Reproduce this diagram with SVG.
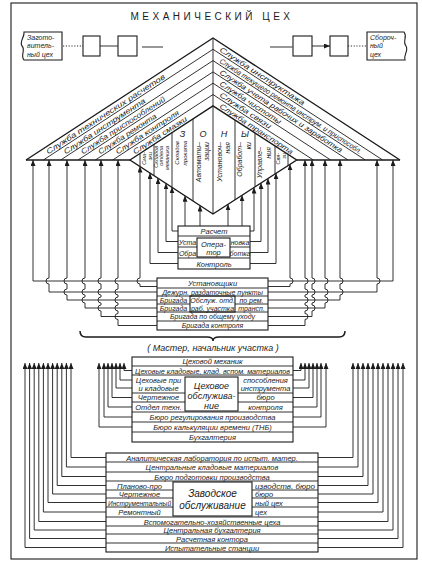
<svg xmlns="http://www.w3.org/2000/svg" width="422" height="573" viewBox="0 0 422 573">
<style>
.ln{fill:none;stroke:#1b1b1b;stroke-width:0.9}
.bx{fill:none;stroke:#1b1b1b;stroke-width:1.1}
.ol{fill:none;stroke:#1b1b1b;stroke-width:1.4}
.t{font-family:"Liberation Sans",Arial,sans-serif;font-style:italic;font-size:7.5px;fill:#1b1b1b}
.c{text-anchor:middle}
.e{text-anchor:end}
.s6{font-size:6px}
.s55{font-size:5.5px}
.s7{font-size:7px}
.s9{font-size:9px}
.s10{font-size:10px}
.ar{marker-start:url(#ah)}
</style>
<defs>
<marker id="ah" markerUnits="userSpaceOnUse" markerWidth="6" markerHeight="5" viewBox="0 0 6 5" refX="6" refY="2.5" orient="auto-start-reverse"><path d="M0,0 L6,2.5 L0,5 z" fill="#1b1b1b"/></marker>
</defs>
<rect width="422" height="573" fill="#ffffff"/>
<g id="frame"><rect x="11" y="3" width="406" height="556" class="bx"/></g>
<g id="title"><text x="212" y="20" text-anchor="middle" style="font-family:'Liberation Sans',Arial,sans-serif;font-size:10px;letter-spacing:3.5px;fill:#1b1b1b">МЕХАНИЧЕСКИЙ ЦЕХ</text></g>

<g id="flow">
<g id="zagot"><path d="M24,32 H62 V60 H24 C20,55 26,50 22,46 C19,41 25,37 24,32 Z" class="bx"/>
<text class="t s7" x="27" y="40">Загото-</text><text class="t s7" x="27" y="48">витель-</text><text class="t s7" x="27" y="57">ный цех</text></g>
<rect id="sq1" x="83" y="36" width="17" height="20" class="bx"/>
<rect id="sq2" x="118" y="36" width="19" height="20" class="bx"/>
<rect id="sq3" x="293" y="36" width="19" height="20" class="bx"/>
<rect id="sq4" x="330" y="36" width="18" height="20" class="bx"/>
<g id="sborka"><path d="M367,32 H404 C408,37 402,41 406,46 C409,51 403,55 405,60 H367 Z" class="bx"/>
<text class="t s7" x="370" y="40">Сбороч-</text><text class="t s7" x="370" y="48">ный</text><text class="t s7" x="370" y="57">цех</text></g>
</g>

<g id="roof">
<path d="M26,160 L213,38 L400,160" class="ol"/>
<path d="M26,160 H130 M296.67,160 H400" class="ol"/>
<path d="M43.33,160 L213,49.31 M60.67,160 L213,60.62 M78,160 L213,71.92 M95.33,160 L213,83.23 M112.67,160 L213,94.54" class="ln"/>
<path d="M213,49.31 L382.67,160 M213,60.62 L365.33,160 M213,71.92 L348,160 M213,83.23 L330.67,160 M213,94.54 L313.33,160" class="ln"/>
<path d="M213,38 V105.85" class="ln"/>
<text class="t" transform="translate(48.3,154.6) rotate(-33.12)" textLength="140" lengthAdjust="spacingAndGlyphs">Служба технических расчетов</text>
<text class="t" transform="translate(65.7,154.6) rotate(-33.12)" textLength="96" lengthAdjust="spacingAndGlyphs">Служба инструмента</text>
<text class="t" transform="translate(83,154.6) rotate(-33.12)" textLength="99" lengthAdjust="spacingAndGlyphs">Служба приспособлений</text>
<text class="t" transform="translate(100.3,154.6) rotate(-33.12)" textLength="68" lengthAdjust="spacingAndGlyphs">Служба ремонта</text>
<text class="t" transform="translate(117.7,154.6) rotate(-33.12)" textLength="74" lengthAdjust="spacingAndGlyphs">Служба контроля</text>
<text class="t" transform="translate(135,154.6) rotate(-33.12)" textLength="63" lengthAdjust="spacingAndGlyphs">Служба смазки</text>
<text class="t" transform="translate(219,51.07) rotate(33.12)" textLength="100" lengthAdjust="spacingAndGlyphs">Служба инструктажа</text>
<text class="t" transform="translate(219,62.38) rotate(33.12)" textLength="168" lengthAdjust="spacingAndGlyphs">Служба текущего ремонта инструм. и приспособл.</text>
<text class="t" transform="translate(219,73.69) rotate(33.12)" textLength="145" lengthAdjust="spacingAndGlyphs">Служба учета рабочих и заработка</text>
<text class="t" transform="translate(219,85) rotate(33.12)" textLength="72" lengthAdjust="spacingAndGlyphs">Служба чистоты</text>
<text class="t" transform="translate(219,96.3) rotate(33.12)" textLength="60" lengthAdjust="spacingAndGlyphs">Служба связи</text>
<text class="t" transform="translate(219,107.6) rotate(33.12)" textLength="86" lengthAdjust="spacingAndGlyphs">Служба транспорта</text>
</g>

<g id="zones">
<path d="M130,160 L213,105.85 L296.67,160 L213,214 Z" class="ol"/>
<path d="M140,153.48 V166.51 M154,144.34 V175.61 M172,132.6 V187.33 M193,118.9 V200.99 M213,105.85 V214 M235,120.09 V199.8 M255,133.03 V186.89 M275,145.98 V173.99 M288,154.39 V165.6" class="ln"/>
<text class="t s9 c" x="182.5" y="137">З</text><text class="t s9 c" x="203" y="137">О</text><text class="t s9 c" x="224" y="137">Н</text><text class="t s9 c" x="245" y="137">Ы</text>
<text class="t s55 e" transform="translate(146,152) rotate(-90)">Сма-</text><text class="t s55 e" transform="translate(151.5,152) rotate(-90)">зки</text>
<text class="t s55 e" transform="translate(157.5,146) rotate(-90)">Складов</text><text class="t s55 e" transform="translate(163,146) rotate(-90)">отдела</text><text class="t s55 e" transform="translate(168.5,146) rotate(-90)">механика</text>
<text class="t s6 e" transform="translate(179,141) rotate(-90)">Складов</text><text class="t s6 e" transform="translate(187,141) rotate(-90)">проката</text>
<text class="t s7 e" transform="translate(201,142) rotate(-90)">Автомати–</text><text class="t s7 e" transform="translate(209,142) rotate(-90)">зации</text>
<text class="t s7 e" transform="translate(221.5,142) rotate(-90)">Установоч–</text><text class="t s7 e" transform="translate(230,142) rotate(-90)">ная</text>
<text class="t s7 e" transform="translate(242,142) rotate(-90)">Обработ–</text><text class="t s7 e" transform="translate(250.5,142) rotate(-90)">ки</text>
<text class="t s7 e" transform="translate(262,147) rotate(-90)">Управле–</text><text class="t s7 e" transform="translate(270.5,147) rotate(-90)">ния</text>
<text class="t s55 e" transform="translate(280,153) rotate(-90)">Свя-</text><text class="t s55 e" transform="translate(285.5,153) rotate(-90)">зи</text>
</g>

<g id="raschet">
<rect x="178" y="226" width="72" height="43" class="bx"/>
<path d="M178,236 H250 M178,258 H250 M178,247 H197 M230,247 H250" class="ln"/>
<rect x="197" y="238" width="33" height="19" class="bx"/>
<text class="t c" x="214" y="234">Расчет</text>
<text class="t s7 c" x="187.5" y="244.5">Уста</text><text class="t s7 c" x="187.5" y="255.5">Обра</text>
<text class="t s7 c" x="240" y="244.5">новка</text><text class="t s7 c" x="240" y="255.5">ботка</text>
<text class="t c" x="213.5" y="246.5">Опера-</text><text class="t c" x="213.5" y="254.5">тор</text>
<text class="t c" x="214" y="266.5">Контроль</text>
</g>

<g id="ustanov">
<rect x="157" y="278" width="111" height="52" class="bx"/>
<path d="M157,288 H268 M157,296 H268 M157,304 H190 M235,304 H268 M157,312 H268 M157,321 H268" class="ln"/>
<rect x="190" y="296" width="45" height="16" class="bx"/>
<text class="t c" x="212.5" y="286">Установщики</text>
<text class="t s7 c" x="212.5" y="294.5">Дежурн. раздаточные пункты</text>
<text class="t s7 c" x="173.5" y="302.5">Бригада</text><text class="t s7 c" x="173.5" y="310.5">Бригада</text>
<text class="t s7 c" x="212.5" y="302.5">Обслуж. отд.</text><text class="t s7 c" x="212.5" y="310.5">раб. участка</text>
<text class="t s7 c" x="251.5" y="302.5">по рем.</text><text class="t s7 c" x="251.5" y="310.5">трансп.</text>
<text class="t s7 c" x="212.5" y="319">Бригада по общему уходу</text>
<text class="t s7 c" x="212.5" y="328">Бригада контроля</text>
</g>

<g id="master">
<path d="M80,331 Q80,337 86,337 H207 Q213,337 213,341 Q213,337 219,337 H339 Q345,337 345,331" fill="none" stroke="#1b1b1b" stroke-width="1.5"/>
<text class="t s9 c" x="213" y="351">( Мастер, начальник участка )</text>
</g>

<g id="tsekh">
<rect x="132" y="357" width="161" height="85" class="bx"/>
<path d="M132,366 H293 M132,375 H293 M132,393 H185 M132,402 H185 M238,393 H293 M238,402 H293 M132,412 H293 M132,422 H293 M132,432 H293" class="ln"/>
<rect x="185" y="377" width="53" height="34" class="bx"/>
<text class="t c" x="212.5" y="364">Цеховой механик</text>
<text class="t c" x="212.5" y="373.5" textLength="155" lengthAdjust="spacingAndGlyphs">Цеховые кладовые, клад. вспом. материалов</text>
<text class="t c" x="158.5" y="382.5">Цеховые при</text><text class="t c" x="158.5" y="390.5">и кладовые</text>
<text class="t c" x="158.5" y="400">Чертежное</text><text class="t c" x="158.5" y="409.5">Отдел техн.</text>
<text class="t s9 c" x="211.5" y="389">Цеховое</text><text class="t s9 c" x="211.5" y="399">обслужива-</text><text class="t s9 c" x="211.5" y="409">ние</text>
<text class="t c" x="265.5" y="382.5">способления</text><text class="t c" x="265.5" y="390.5">инструмента</text>
<text class="t c" x="265.5" y="400">бюро</text><text class="t c" x="265.5" y="409.5">контроля</text>
<text class="t c" x="212.5" y="419.5">Бюро регулирования производства</text>
<text class="t c" x="212.5" y="429.5">Бюро калькуляции времени (ТНБ)</text>
<text class="t c" x="212.5" y="439.5">Бухгалтерия</text>
</g>

<g id="zavod">
<rect x="106" y="453" width="212" height="99" class="bx"/>
<path d="M106,462 H318 M106,472 H318 M106,481 H318 M106,490 H173 M106,498 H173 M106,507 H173 M252,490 H318 M252,498 H318 M252,507 H318 M106,517 H318 M106,526 H318 M106,534 H318 M106,543 H318" class="ln"/>
<rect x="173" y="482" width="79" height="34" class="bx"/>
<text class="t c" x="212" y="460.5">Аналитическая лаборатория по испыт. матер.</text>
<text class="t c" x="212" y="470">Центральные кладовые материалов</text>
<text class="t c" x="212" y="479.5">Бюро подготовки производства</text>
<text class="t c" x="139.5" y="488.5">Планово-про</text><text class="t c" x="139.5" y="497">Чертежное</text>
<text class="t c" x="139.5" y="505.5" textLength="63" lengthAdjust="spacingAndGlyphs">Инструментальный</text><text class="t c" x="139.5" y="515">Ремонтный</text>
<text class="t" x="255" y="488.5" textLength="60" lengthAdjust="spacingAndGlyphs">изводств. бюро</text><text class="t" x="255" y="497">бюро</text>
<text class="t" x="255" y="505.5">ный цех</text><text class="t" x="255" y="515">цех</text>
<text class="t s10 c" x="212.5" y="497">Заводское</text><text class="t s10 c" x="212.5" y="509">обслуживание</text>
<text class="t c" x="212" y="524.5">Вспомогательно-хозяйственные цеха</text>
<text class="t c" x="212" y="533">Центральная бухгалтерия</text>
<text class="t c" x="212" y="541.5">Расчетная контора</text>
<text class="t c" x="212" y="550.5">Испытательные станции</text>
</g>

<g id="connectors">
<path d="M63,46 H83 M348,46 H367" class="ln" stroke-dasharray="1.2 1.6"/>
<path d="M100,46 H118 M142,47 H163 M270,47 H292.5 M312,46 H330" class="ln" marker-end="url(#ah)"/>
<g class="ln ar">
<path d="M33,160 V281 H157"/>
<path d="M49,160 V278 A3,3 0 0 0 49,284 V292 H157"/>
<path d="M67,160 V278 A3,3 0 0 0 67,284 V289 A3,3 0 0 0 67,295 V300 H157"/>
<path d="M85,160 V278 A3,3 0 0 0 85,284 V289 A3,3 0 0 0 85,295 V297 A3,3 0 0 0 85,303 V308 H157"/>
<path d="M101,160 V278 A3,3 0 0 0 101,284 V289 A3,3 0 0 0 101,295 V297 A3,3 0 0 0 101,303 V305 A3,3 0 0 0 101,311 V316.5 H157"/>
<path d="M118,160 V278 A3,3 0 0 0 118,284 V289 A3,3 0 0 0 118,295 V297 A3,3 0 0 0 118,303 V305 A3,3 0 0 0 118,311 V313.5 A3,3 0 0 0 118,319.5 V325.5 H157"/>
<path d="M140,166.5 V278 A3,3 0 0 0 140,284 V286.5 H157"/>
<path d="M393,160 V281 H268"/>
<path d="M377,160 V278 A3,3 0 0 1 377,284 V292 H268"/>
<path d="M340,160 V278 A3,3 0 0 1 340,284 V289 A3,3 0 0 1 340,295 V300 H268"/>
<path d="M325,160 V278 A3,3 0 0 1 325,284 V289 A3,3 0 0 1 325,295 V297 A3,3 0 0 1 325,303 V308 H268"/>
<path d="M312,160 V278 A3,3 0 0 1 312,284 V289 A3,3 0 0 1 312,295 V297 A3,3 0 0 1 312,303 V305 A3,3 0 0 1 312,311 V316.5 H268"/>
<path d="M305,160 V278 A3,3 0 0 1 305,284 V289 A3,3 0 0 1 305,295 V297 A3,3 0 0 1 305,303 V305 A3,3 0 0 1 305,311 V313.5 A3,3 0 0 1 305,319.5 V325.5 H268"/>
<path d="M290,164.3 V278 A3,3 0 0 1 290,284 V286.5 H268"/>
<path d="M150,173 V263.5 H178"/>
<path d="M158,178.2 V252.5 H178"/>
<path d="M166,183.4 V241.5 H178"/>
<path d="M172,187.3 V231 H178"/>
<path d="M185,195.8 V226"/>
<path d="M200,205.5 V226"/>
<path d="M228,204.3 V226"/>
<path d="M242,195.3 V226"/>
<path d="M254,187.5 V231 H250"/>
<path d="M261,183 V241.5 H250"/>
<path d="M268,178.5 V252.5 H250"/>
<path d="M276,173.3 V263.5 H250"/>
<path d="M124,363 V370.5 H132"/>
<path d="M120,363 V380 H132"/>
<path d="M116,363 V388 H132"/>
<path d="M112,363 V397.5 H132"/>
<path d="M108,363 V407 H132"/>
<path d="M104,363 V417 H132"/>
<path d="M99,363 V427 H132"/>
<path d="M301,363 V370.5 H293"/>
<path d="M305,363 V380 H293"/>
<path d="M309,363 V388 H293"/>
<path d="M313,363 V397.5 H293"/>
<path d="M317,363 V407 H293"/>
<path d="M321,363 V417 H293"/>
<path d="M326,363 V427 H293"/>
<path d="M71,363 V457.5 H106"/>
<path d="M66.4,363 V467 H106"/>
<path d="M61.8,363 V476.5 H106"/>
<path d="M57.2,363 V485.5 H106"/>
<path d="M52.6,363 V494 H106"/>
<path d="M48,363 V502.5 H106"/>
<path d="M43.4,363 V512 H106"/>
<path d="M38.8,363 V521.5 H106"/>
<path d="M34.2,363 V530 H106"/>
<path d="M29.6,363 V538.5 H106"/>
<path d="M25,363 V547.5 H106"/>
<path d="M353,363 V457.5 H318"/>
<path d="M358,363 V467 H318"/>
<path d="M363,363 V476.5 H318"/>
<path d="M368,363 V485.5 H318"/>
<path d="M373,363 V494 H318"/>
<path d="M378,363 V502.5 H318"/>
<path d="M383,363 V512 H318"/>
<path d="M388,363 V521.5 H318"/>
<path d="M393,363 V530 H318"/>
<path d="M398,363 V538.5 H318"/>
<path d="M403,363 V547.5 H318"/>
</g>
</g>
</svg>
